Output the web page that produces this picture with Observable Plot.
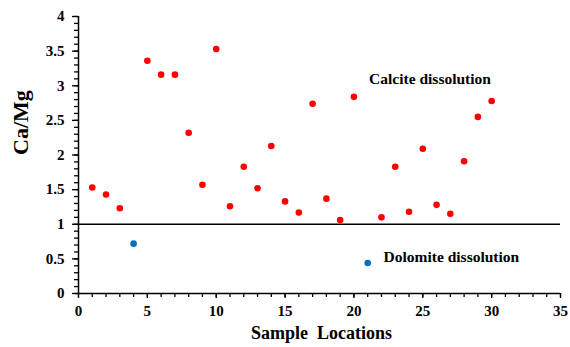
<!DOCTYPE html>
<html>
<head>
<meta charset="utf-8">
<script src="https://cdn.jsdelivr.net/npm/d3@7"></script>
<script src="https://cdn.jsdelivr.net/npm/@observablehq/plot@0.6"></script>
<style>
  html, body { margin: 0; padding: 0; background: #fff; }
  #chart { width: 570px; height: 347px; }
</style>
</head>
<body>
<div id="chart"></div>
<script>
// Sample locations and Ca/Mg ratios
const locations = [1,2,3,4,5,6,7,8,9,10,11,12,13,14,15,16,17,18,19,20,21,22,23,24,25,26,27,28,29,30];
const caMg = [1.53,1.43,1.23,0.72,3.36,3.16,3.16,2.32,1.57,3.53,1.26,1.83,1.52,2.13,1.33,1.17,2.74,1.37,1.06,2.84,0.44,1.10,1.83,1.18,2.09,1.28,1.15,1.91,2.55,2.78];
const xTicks = [0,5,10,15,20,25,30,35];
const yTicks = [0,0.5,1,1.5,2,2.5,3,3.5,4];
const xMinor = d3.range(0, 36, 1);
const yMinor = d3.range(0, 4.01, 0.1).map(v => +v.toFixed(1));
const threshold = [1];
const annotations = [
  {label: "Calcite dissolution", x: 21.1, y: 3.10},
  {label: "Dolomite dissolution", x: 22.15, y: 0.53}
];
const xLabel = "Sample\u00A0 Locations";
const yLabel = "Ca/Mg";

const data = locations.map((x, i) => ({x, v: caMg[i], type: caMg[i] >= 1 ? "calcite" : "dolomite"}));

const font = "'Liberation Serif', 'Times New Roman', serif";

const chart = Plot.plot({
  width: 570,
  height: 347,
  marginLeft: 78,
  marginRight: 10,
  marginTop: 16,
  marginBottom: 54,
  style: {fontFamily: font, fontWeight: "bold", fontSize: "15px", color: "#000", background: "#fff"},
  x: {domain: [0, 35]},
  y: {domain: [0, 4]},
  marks: [
    Plot.axisX({ticks: xMinor, tickSize: 4, text: null, strokeWidth: 1.3, label: null}),
    Plot.axisX({ticks: xTicks, tickSize: 5, tickPadding: 7, tickFormat: d => String(d), fontSize: 15, fontFamily: font, fontWeight: "bold", strokeWidth: 1.3, label: null}),
    Plot.axisY({ticks: yMinor, tickSize: 4, text: null, strokeWidth: 1.3, label: null}),
    Plot.axisY({ticks: yTicks, tickSize: 6, tickPadding: 8, tickFormat: d => String(d), fontSize: 15, fontFamily: font, fontWeight: "bold", strokeWidth: 1.3, label: null}),
    Plot.ruleY([0], {stroke: "#000", strokeWidth: 1.5}),
    Plot.ruleX([0], {stroke: "#000", strokeWidth: 1.5}),
    Plot.ruleY(threshold, {stroke: "#000", strokeWidth: 1.3}),
    Plot.dot(data, {x: "x", y: "v", r: 3.3, fill: d => d.type === "calcite" ? "#FF0000" : "#0070C0", stroke: "none"}),
    Plot.text(annotations, {x: "x", y: "y", text: "label", textAnchor: "start", fontSize: 15.5, fontFamily: font, fontWeight: "bold", fill: "#000"}),
    Plot.text([xLabel], {frameAnchor: "bottom", dy: 40, dx: 2, text: d => d, fontSize: 18, fontFamily: font, fontWeight: "bold", fill: "#000", lineAnchor: "middle"}),
    Plot.text([yLabel], {frameAnchor: "left", dx: -58, rotate: -90, text: d => d, fontSize: 22, fontFamily: font, fontWeight: "bold", fill: "#000", lineAnchor: "middle"})
  ]
});
document.getElementById("chart").appendChild(chart);
</script>
</body>
</html>
